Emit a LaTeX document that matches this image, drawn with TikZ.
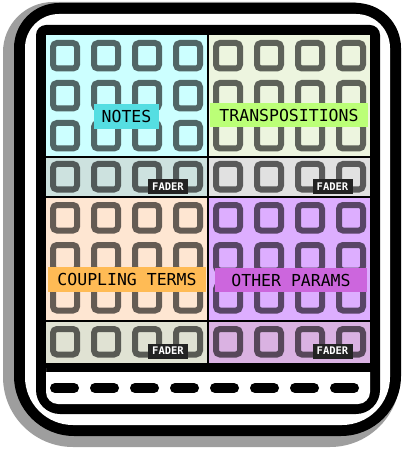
\documentclass[tikz,border=0pt]{standalone}
\usepackage{fontspec}
\newfontfamily\labelmono{DejaVu Sans Mono}
\definecolor{shadowgray}{HTML}{9E9E9E}
\definecolor{notesbg}{HTML}{CCFFFF}
\definecolor{transbg}{HTML}{EDF5DF}
\definecolor{coupbg}{HTML}{FEE6D2}
\definecolor{otherbg}{HTML}{DDAEFF}
\definecolor{notesfd}{HTML}{CDE2DF}
\definecolor{transfd}{HTML}{E1E1E1}
\definecolor{coupfd}{HTML}{E0E2D3}
\definecolor{otherfd}{HTML}{DAB2E2}
\definecolor{notesl}{HTML}{55DEE2}
\definecolor{transl}{HTML}{BBFF77}
\definecolor{coupl}{HTML}{FFBB55}
\definecolor{otherl}{HTML}{CC66DD}
\definecolor{faderbg}{HTML}{232323}
\begin{document}
\begin{tikzpicture}[x=1pt,y=-1pt,
  sq/.style={draw=black, draw opacity=0.6, line width=6pt, rounded corners=4pt},
  lbl/.style={inner sep=0pt, minimum height=25pt, text=black,
    font=\labelmono\fontsize{16.5}{16.5}\selectfont},
  faderbox/.style={fill=faderbg, text=white, inner sep=0pt,
    minimum width=40pt, minimum height=15pt,
    font=\labelmono\bfseries\fontsize{10.5}{10.5}\selectfont},
  divider/.style={draw=black, line width=2pt},
  dashseg/.style={line width=10pt, line cap=round}
]
\useasboundingbox (0,0) rectangle (402,454);
% device body
\fill[shadowgray, rounded corners=50pt] (3,240) -- (3,2) -- (400,2) -- (400,240)
  [rounded corners=70pt] -- (400,447) -- (3,447) -- cycle;
\fill[black, rounded corners=45pt] (14,240) -- (14,3) -- (401,3) -- (401,240)
  [rounded corners=60pt] -- (401,436) -- (14,436) -- cycle;
\fill[white, rounded corners=34pt] (25,240) -- (25,14) -- (390,14) -- (390,240)
  [rounded corners=48pt] -- (390,425) -- (25,425) -- cycle;
\fill[black, rounded corners=10pt] (36,240) -- (36,25) -- (380,25) -- (380,240)
  [rounded corners=24pt] -- (380,414) -- (36,414) -- cycle;
% panels
\fill[notesbg] (46,35) rectangle (208,157);
\fill[transbg] (208,35) rectangle (370,157);
\fill[notesfd] (46,157) rectangle (208,197);
\fill[transfd] (208,157) rectangle (370,197);
\fill[coupbg] (46,197) rectangle (208,321);
\fill[otherbg] (208,197) rectangle (370,321);
\fill[coupfd] (46,321) rectangle (208,363);
\fill[otherfd] (208,321) rectangle (370,363);
% squares
\foreach \x in {65,106,147,188,228,269,310,351}
  \foreach \y in {56,96,136,177,218,258,298,342}
    \draw[sq] (\x-12,\y-13) rectangle (\x+12,\y+12.5);
% dividers
\draw[divider] (46,157) -- (370,157);
\draw[divider] (46,197) -- (370,197);
\draw[divider] (46,321) -- (370,321);
\draw[divider] (208,35) -- (208,363);
% bottom strip
\fill[white, sharp corners] (46,380) -- (46,372) -- (370,372) -- (370,380)
  [rounded corners=12pt] -- (370,404) -- (46,404) -- cycle;
\foreach \i in {0,...,7}
  \draw[dashseg] (55+40*\i,388) -- (74+40*\i,388);
% labels
\node[lbl, fill=notesl, minimum width=65pt] (notes) at (126.5,116.5) {NOTES};
\node[lbl, fill=transl, minimum width=158pt, minimum height=24pt] (trans) at (289,115) {TRANSPOSITIONS};
\node[lbl, fill=coupl, minimum width=158pt] (coup) at (127,279.5) {COUPLING TERMS};
\node[lbl, fill=otherl, minimum width=152pt, minimum height=24pt] (other) at (291,280) {OTHER PARAMS};
% fader tags
\node[faderbox] (fader1) at (168,186.5) {FADER};
\node[faderbox] (fader2) at (332.5,186.5) {FADER};
\node[faderbox] (fader3) at (168,351) {FADER};
\node[faderbox] (fader4) at (332.5,351) {FADER};
\end{tikzpicture}
\end{document}
